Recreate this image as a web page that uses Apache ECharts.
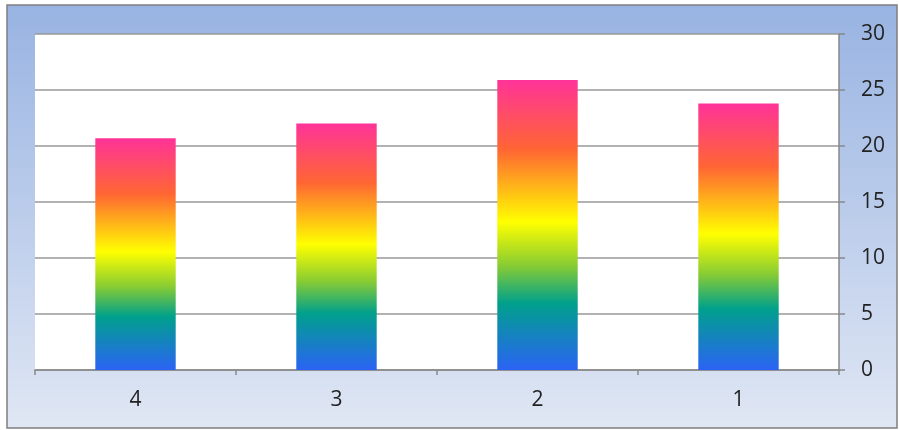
<!DOCTYPE html>
<html>
<head>
<meta charset="utf-8">
<script src="https://cdn.jsdelivr.net/npm/echarts@6/dist/echarts.min.js"></script>
<style>
  html, body { margin: 0; padding: 0; background: #fff; }
</style>
</head>
<body>
<div id="chart" style="width: 899px;height:430px;"></div>
<script>
// data
var categories = ['4', '3', '2', '1'];
var values = [20.7, 22.0, 25.9, 23.8];
var yTicks = { min: 0, max: 30, interval: 5 };

var chart = echarts.init(document.getElementById('chart'));

// rainbow fill, relative to each bar
var barFill = new echarts.graphic.LinearGradient(0, 0, 0, 1, [
  { offset: 0, color: '#ff3399' },
  { offset: 0.24, color: '#ff6633' },
  { offset: 0.49, color: '#ffff00' },
  { offset: 0.64, color: '#88cc33' },
  { offset: 0.77, color: '#00a08c' },
  { offset: 1, color: '#2b63f5' }
]);

var option = {
  backgroundColor: '#fff',
  animation: false,
  graphic: [
    {
      type: 'rect',
      z: -10,
      shape: { x: 7, y: 5, width: 890, height: 423 },
      style: {
        fill: new echarts.graphic.LinearGradient(0, 0, 0, 1, [
          { offset: 0, color: '#98b3e2' },
          { offset: 1, color: '#e0e7f4' }
        ]),
        stroke: '#7f7f7f',
        lineWidth: 1.5
      }
    }
  ],
  grid: {
    left: 35, right: 60, top: 34, bottom: 60,
    show: true,
    backgroundColor: '#ffffff',
    borderWidth: 0
  },
  xAxis: {
    type: 'category',
    data: categories,
    axisLine: { lineStyle: { color: '#888', width: 1.5 } },
    axisTick: { show: true, alignWithLabel: false, length: 5, lineStyle: { color: '#888', width: 1.5 } },
    axisLabel: { fontSize: 21, color: '#222', margin: 20, fontFamily: 'Open Sans' },
    splitLine: { show: false }
  },
  yAxis: {
    type: 'value',
    position: 'right',
    min: yTicks.min,
    max: yTicks.max,
    interval: yTicks.interval,
    axisLine: { show: true, lineStyle: { color: '#888', width: 1.5 } },
    axisTick: { show: true, length: 6, lineStyle: { color: '#888', width: 1.5 } },
    axisLabel: { fontSize: 21, color: '#222', margin: 22, fontFamily: 'Open Sans' },
    splitLine: { show: true, lineStyle: { color: '#999', width: 1.5 } }
  },
  series: [
    {
      type: 'bar',
      data: values,
      barWidth: '40%',
      itemStyle: { color: barFill }
    }
  ]
};

chart.setOption(option);
</script>
</body>
</html>
